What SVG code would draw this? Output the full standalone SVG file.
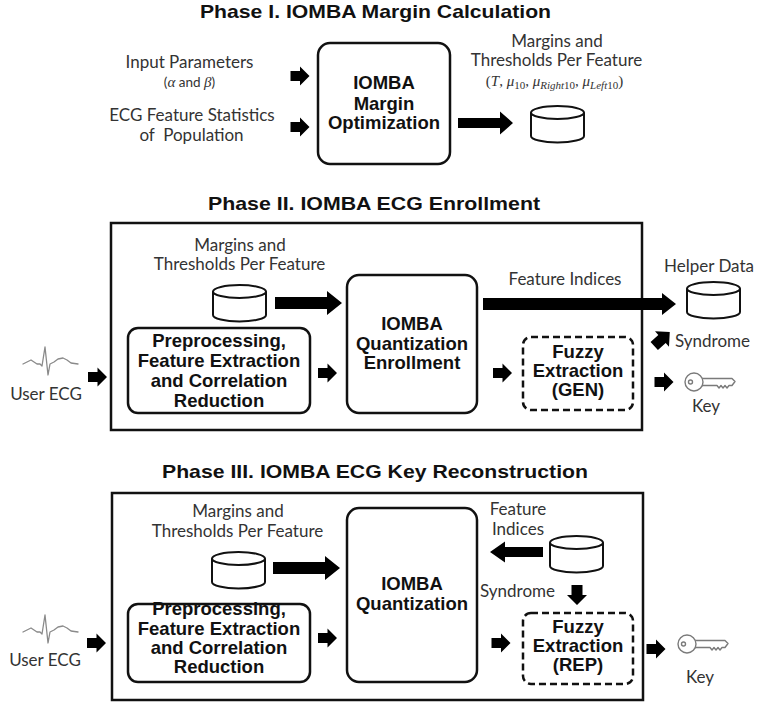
<svg xmlns="http://www.w3.org/2000/svg" xmlns:xlink="http://www.w3.org/1999/xlink" width="757" height="704" viewBox="0 0 757 704">
<style>
.title{font-family:"Liberation Sans",Arial,sans-serif;font-weight:bold;font-size:18.5px;fill:#111;}
.bold{font-family:"Liberation Sans",Arial,sans-serif;font-weight:bold;font-size:18.5px;fill:#111;text-anchor:middle;}
.lbl{font-family:Lato,"Liberation Sans",sans-serif;font-size:17px;fill:#333;}
.mid{text-anchor:middle;}
.math{font-family:"Liberation Serif","DejaVu Serif",serif;font-size:15px;fill:#333;}
.box{fill:#fff;stroke:#111;stroke-width:2.5;}
.frame{fill:none;stroke:#111;stroke-width:2.5;}
.dash{fill:#fff;stroke:#111;stroke-width:2.5;stroke-dasharray:7 4;}
.cyl{fill:#fff;stroke:#111;stroke-width:2;}
.arr{fill:#000;stroke:none;}
.icon{fill:#fff;stroke:#7a7a7a;stroke-width:1.4;stroke-linejoin:round;}
.wave{fill:none;stroke:#8a8a8a;stroke-width:1.3;stroke-linejoin:round;stroke-linecap:round;}
</style>
<defs>
<path id="sa" d="M-9.5,-5 H0 V-9.5 L9.5,0 L0,9.5 V5 H-9.5 Z"/>
<g id="keyIcon">
<path class="icon" d="M14,-3.5 L47,-3.5 L50,-0.5 L47,3.5 L44,3.5 L42,6 L40,3.5 L38,6 L36,3.5 L34,6 L32,3.5 L14,3.5 Z"/>
<circle class="icon" cx="9" cy="0" r="9"/>
<circle class="icon" cx="5.5" cy="0" r="2"/>
</g>
<polyline id="ecgWave" class="wave" points="0,17 4,15 8,13 11,15 14,17 17,17 19,19 22,0 25,28 27,17 31,15 35,12 40,11 44,13 48,16 55,17"/>
<g id="cylinder">
<path class="cyl" d="M0,6.5 V30 A26.5,6.5 0 0 0 53,30 V6.5"/>
<ellipse class="cyl" cx="26.5" cy="6.5" rx="26.5" ry="6.5"/>
</g>
</defs>

<!-- Phase I -->
<g id="phase1">
<text class="title" x="200" y="18" textLength="351" lengthAdjust="spacingAndGlyphs">Phase I. IOMBA  Margin  Calculation</text>
<g id="p1-inputs">
<text class="lbl mid" x="189.5" y="68">Input Parameters</text>
<text class="lbl mid" x="189.5" y="87" style="font-size:13.5px">(<tspan font-family="Liberation Serif" font-style="italic" font-size="15">α</tspan> and <tspan font-family="Liberation Serif" font-style="italic" font-size="15">β</tspan>)</text>
</g>
<g id="p1-stats">
<text class="lbl mid" x="192" y="121">ECG Feature Statistics</text>
<text class="lbl mid" x="191.5" y="141">of&#160; Population</text>
</g>
<g id="p1-opt">
<rect class="box" x="318" y="43" width="132" height="121" rx="12"/>
<text class="bold" x="384" y="89">IOMBA</text>
<text class="bold" x="384" y="110">Margin</text>
<text class="bold" x="384" y="129">Optimization</text>
</g>
<g id="p1-db">
<text class="lbl mid" x="557" y="47">Margins and</text>
<text class="lbl mid" x="556.5" y="66">Thresholds Per Feature</text>
<text class="math mid" x="554.5" y="86">(<tspan font-style="italic">T</tspan>, <tspan font-style="italic">μ</tspan><tspan font-size="11" dy="3">10</tspan><tspan dy="-3">, </tspan><tspan font-style="italic">μ</tspan><tspan font-size="11" font-style="italic" dy="3">Right</tspan><tspan font-size="11">10</tspan><tspan dy="-3">, </tspan><tspan font-style="italic">μ</tspan><tspan font-size="11" font-style="italic" dy="3">Left</tspan><tspan font-size="11">10</tspan><tspan dy="-3">)</tspan></text>
<use xlink:href="#cylinder" href="#cylinder" transform="translate(531,106)"/>
</g>
</g>

<!-- Phase II -->
<g id="phase2">
<text class="title" x="208" y="210" textLength="332" lengthAdjust="spacingAndGlyphs">Phase II. IOMBA  ECG  Enrollment</text>
<rect class="frame" x="111" y="223" width="531" height="207"/>
<g id="p2-user">
<use xlink:href="#ecgWave" href="#ecgWave" transform="translate(23,347)"/>
<text class="lbl mid" x="46" y="400">User ECG</text>
</g>
<g id="p2-db">
<text class="lbl mid" x="240" y="251">Margins and</text>
<text class="lbl mid" x="239.5" y="270">Thresholds Per Feature</text>
<use xlink:href="#cylinder" href="#cylinder" transform="translate(213,285)"/>
</g>
<g id="p2-pre">
<rect class="box" x="128" y="328" width="182" height="85" rx="10"/>
<text class="bold" x="219" y="347">Preprocessing,</text>
<text class="bold" x="219" y="367">Feature Extraction</text>
<text class="bold" x="219" y="387">and Correlation</text>
<text class="bold" x="219" y="407">Reduction</text>
</g>
<g id="p2-quant">
<rect class="box" x="347" y="275" width="130" height="138" rx="12"/>
<text class="bold" x="412" y="330">IOMBA</text>
<text class="bold" x="412" y="350">Quantization</text>
<text class="bold" x="412" y="369">Enrollment</text>
</g>
<g id="p2-fuzzy">
<rect class="dash" x="523" y="337" width="110" height="73" rx="8"/>
<text class="bold" x="578" y="358">Fuzzy</text>
<text class="bold" x="578" y="377">Extraction</text>
<text class="bold" x="578" y="396">(GEN)</text>
</g>
<g id="p2-helper">
<text class="lbl mid" x="709" y="272">Helper Data</text>
<use xlink:href="#cylinder" href="#cylinder" transform="translate(687,282)"/>
<text class="lbl" x="675" y="347">Syndrome</text>
</g>
<g id="p2-key">
<use xlink:href="#keyIcon" href="#keyIcon" transform="translate(685,382)"/>
<text class="lbl mid" x="706" y="412">Key</text>
</g>
<text class="lbl mid" x="565" y="285">Feature Indices</text>
</g>

<!-- Phase III -->
<g id="phase3">
<text class="title" x="162" y="478" textLength="426" lengthAdjust="spacingAndGlyphs">Phase III. IOMBA  ECG  Key  Reconstruction</text>
<rect class="frame" x="112" y="493" width="531" height="207"/>
<g id="p3-user">
<use xlink:href="#ecgWave" href="#ecgWave" transform="translate(23,615)"/>
<text class="lbl mid" x="45" y="666">User ECG</text>
</g>
<g id="p3-db">
<text class="lbl mid" x="238" y="517">Margins and</text>
<text class="lbl mid" x="237.5" y="537">Thresholds Per Feature</text>
<use xlink:href="#cylinder" href="#cylinder" transform="translate(212,552)"/>
</g>
<g id="p3-pre">
<rect class="box" x="128" y="604" width="182" height="78" rx="10"/>
<text class="bold" x="219" y="615">Preprocessing,</text>
<text class="bold" x="219" y="635">Feature Extraction</text>
<text class="bold" x="219" y="654">and Correlation</text>
<text class="bold" x="219" y="673">Reduction</text>
</g>
<g id="p3-quant">
<rect class="box" x="347" y="508" width="130" height="174" rx="12"/>
<text class="bold" x="412" y="590">IOMBA</text>
<text class="bold" x="412" y="610">Quantization</text>
</g>
<g id="p3-helper">
<text class="lbl mid" x="518" y="515">Feature</text>
<text class="lbl mid" x="518" y="535">Indices</text>
<use xlink:href="#cylinder" href="#cylinder" transform="translate(550,536)"/>
<text class="lbl" x="480" y="597">Syndrome</text>
</g>
<g id="p3-fuzzy">
<rect class="dash" x="523" y="613" width="110" height="71" rx="8"/>
<text class="bold" x="578" y="633">Fuzzy</text>
<text class="bold" x="578" y="652">Extraction</text>
<text class="bold" x="578" y="671">(REP)</text>
</g>
<g id="p3-key">
<use xlink:href="#keyIcon" href="#keyIcon" transform="translate(678,644)"/>
<text class="lbl mid" x="700" y="683">Key</text>
</g>
</g>

<!-- Connectors -->
<g id="connectors" class="arr">
<use xlink:href="#sa" href="#sa" transform="translate(300,76)"/>
<use xlink:href="#sa" href="#sa" transform="translate(300,127)"/>
<path d="M458,118 H500 V111.5 L513,123 L500,134.5 V128 H458 Z"/>

<use xlink:href="#sa" href="#sa" transform="translate(97.5,377)"/>
<path d="M275,297 H327 V291 L342,303 L327,315 V309 H275 Z"/>
<use xlink:href="#sa" href="#sa" transform="translate(327.5,373)"/>
<path d="M483,298 H662 V293 L676,304 L662,315 V310 H483 Z"/>
<use xlink:href="#sa" href="#sa" transform="translate(502.5,373)"/>
<use xlink:href="#sa" href="#sa" transform="translate(662,339) rotate(-42) scale(1.1)"/>
<use xlink:href="#sa" href="#sa" transform="translate(664,382)"/>

<use xlink:href="#sa" href="#sa" transform="translate(96.5,643)"/>
<path d="M273,562 H325 V556 L340,568 L325,580 V574 H273 Z"/>
<use xlink:href="#sa" href="#sa" transform="translate(327.5,638)"/>
<path d="M543,547 H505 V541.5 L490,552 L505,562.5 V557 H543 Z"/>
<path d="M571.5,585 V595 H567 L577,605 L587,595 H582.5 V585 Z"/>
<use xlink:href="#sa" href="#sa" transform="translate(501,643)"/>
<use xlink:href="#sa" href="#sa" transform="translate(656,649)"/>
</g>
</svg>
